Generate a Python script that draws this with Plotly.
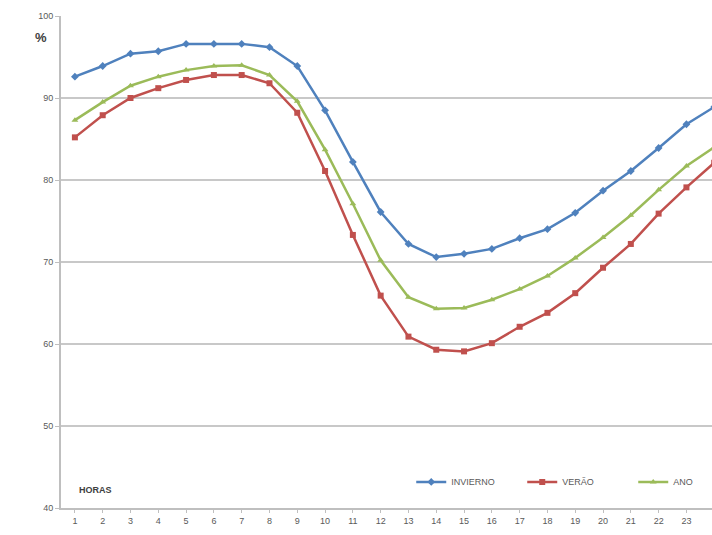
import plotly.graph_objects as go

horas = list(range(1, 25))
invierno = [92.6, 93.9, 95.4, 95.7, 96.6, 96.6, 96.6, 96.2, 93.9, 88.5, 82.2, 76.1,
            72.2, 70.6, 71.0, 71.6, 72.9, 74.0, 76.0, 78.7, 81.1, 83.9, 86.8, 88.9]
verao = [85.2, 87.9, 90.0, 91.2, 92.2, 92.8, 92.8, 91.8, 88.2, 81.1, 73.3, 65.9,
         60.9, 59.3, 59.1, 60.1, 62.1, 63.8, 66.2, 69.3, 72.2, 75.9, 79.1, 82.1]
ano = [87.3, 89.5, 91.5, 92.6, 93.4, 93.9, 94.0, 92.8, 89.6, 83.7, 77.1, 70.2,
       65.7, 64.3, 64.4, 65.4, 66.7, 68.3, 70.5, 73.0, 75.7, 78.8, 81.7, 84.0]
y_ticks = [40, 50, 60, 70, 80, 90, 100]

series = [
    ("INVIERNO", invierno, "#4F81BD", "diamond"),
    ("VERÃO", verao, "#C0504D", "square"),
    ("ANO", ano, "#9BBB59", "triangle-up"),
]

fig = go.Figure()
for name, vals, col, sym in series:
    fig.add_trace(go.Scatter(
        x=horas, y=vals, name=name, mode="lines+markers",
        line=dict(color=col, width=2.5),
        marker=dict(symbol=sym, size=6, color=col),
    ))

fig.update_layout(
    width=712, height=535,
    margin=dict(l=61, r=0, t=16, b=27, autoexpand=False),
    paper_bgcolor="white", plot_bgcolor="white",
    font=dict(family="Liberation Sans, Arial, sans-serif", size=9, color="#595959"),
    showlegend=True,
    legend=dict(orientation="h", x=0.538, y=0.053, xanchor="left", yanchor="middle",
                bgcolor="rgba(0,0,0,0)", font=dict(size=9, color="#595959"),
                entrywidth=66, entrywidthmode="pixels", itemwidth=30,
                tracegroupgap=0),
    xaxis=dict(
        range=[0.5, 23.92], tickmode="array", tickvals=horas,
        ticktext=[str(h) for h in horas],
        showgrid=False, showline=True, linecolor="#BFBFBF", linewidth=2,
        ticks="outside", ticklen=3, tickcolor="#BFBFBF", zeroline=False,
        tickfont=dict(size=9, color="#595959"),
    ),
    yaxis=dict(
        range=[40, 100], tickmode="array", tickvals=y_ticks,
        showgrid=True, gridcolor="#C8C8C8", gridwidth=2,
        showline=True, linecolor="#BFBFBF", linewidth=2,
        ticks="outside", ticklen=4, tickcolor="#BFBFBF", zeroline=False,
        tickfont=dict(size=9, color="#595959"),
    ),
    annotations=[
        dict(text="<b>%</b>", xref="paper", yref="paper", x=-0.018, y=0.957,
             xanchor="right", yanchor="middle", showarrow=False,
             font=dict(size=13, color="#404040")),
        dict(text="<b>HORAS</b>", xref="paper", yref="paper", x=0.024, y=0.037,
             xanchor="left", yanchor="middle", showarrow=False,
             font=dict(size=9, color="#404040")),
    ],
)

fig.write_html("out.html")
